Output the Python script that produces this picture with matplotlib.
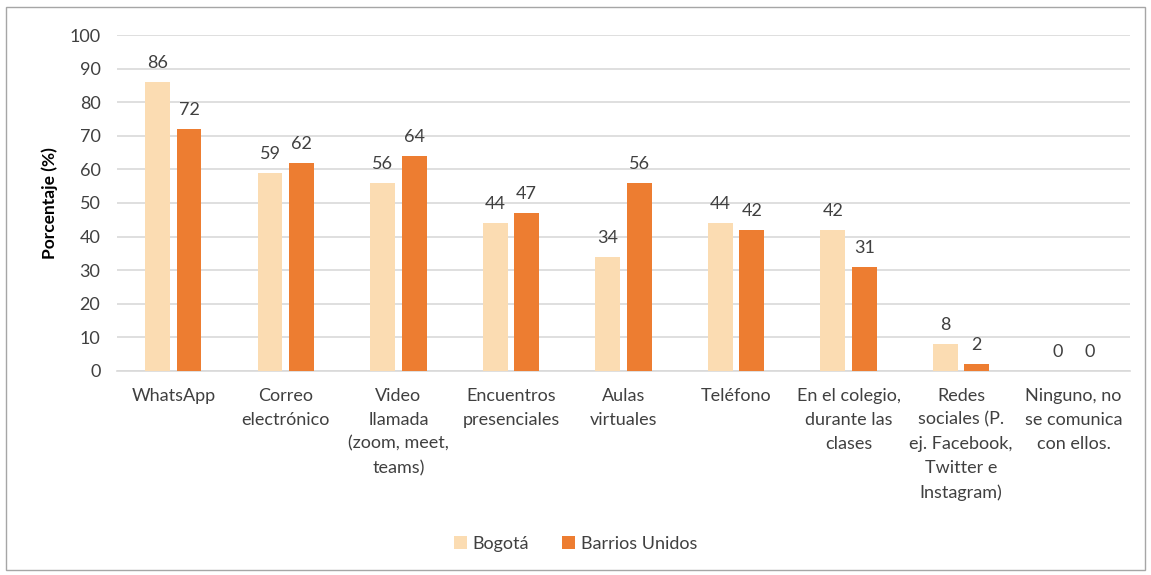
import numpy as np
import matplotlib.pyplot as plt
from matplotlib.patches import Rectangle

plt.rcParams['font.family'] = ['Lato', 'DejaVu Sans']

# Medios de comunicación con los docentes
categorias = [
    "WhatsApp",
    "Correo\nelectrónico",
    "Video\nllamada\n(zoom, meet,\nteams)",
    "Encuentros\npresenciales",
    "Aulas\nvirtuales",
    "Teléfono",
    "En el colegio,\ndurante las\nclases",
    "Redes\nsociales (P.\nej. Facebook,\nTwitter e\nInstagram)",
    "Ninguno, no\nse comunica\ncon ellos.",
]
bogota = [86, 59, 56, 44, 34, 44, 42, 8, 0]
barrios_unidos = [72, 62, 64, 47, 56, 42, 31, 2, 0]

color_bog = "#FBDCB2"
color_bu = "#ED7D31"
texto = "#404040"

fig = plt.figure(figsize=(11.51, 5.75), dpi=100)
ax = fig.add_axes([0.1017, 0.355, 0.88, 0.584])

x = np.arange(len(categorias))
ancho = 0.22
b1 = ax.bar(x - 0.14, bogota, ancho, color=color_bog, label="Bogotá", zorder=3)
b2 = ax.bar(x + 0.14, barrios_unidos, ancho, color=color_bu, label="Barrios Unidos", zorder=3)

for barras in (b1, b2):
    for b in barras:
        h = b.get_height()
        ax.annotate(f"{h:g}", (b.get_x() + b.get_width() / 2, h),
                    xytext=(0, 8), textcoords="offset points",
                    ha="center", va="bottom", fontsize=13, color=texto)

ax.set_ylim(0, 100)
ax.set_xlim(-0.5, len(categorias) - 0.5)
ax.set_yticks(range(0, 101, 10))
ax.yaxis.grid(True, color="#D9D9D9", linewidth=1.2, zorder=0)
ax.set_axisbelow(True)
for s in ("top", "right", "left"):
    ax.spines[s].set_visible(False)
ax.spines["bottom"].set_color("#D9D9D9")
ax.spines["bottom"].set_linewidth(1.2)
ax.tick_params(axis="both", length=0, labelsize=13, colors=texto)
ax.tick_params(axis="y", pad=12)
ax.tick_params(axis="x", pad=12)
ax.set_xticks(x)
ax.set_xticklabels(categorias, linespacing=1.62, va="top")
ax.set_ylabel("Porcentaje (%)", fontsize=12.5, fontweight="bold", color="black", labelpad=8)

fig.legend(handles=[b1, b2], loc="center", bbox_to_anchor=(0.5, 0.054), ncol=2,
           frameon=False, fontsize=13, handlelength=0.75, handleheight=0.75,
           handletextpad=0.3, columnspacing=1.8, labelcolor=texto)

# marco exterior del gráfico
fig.patches.append(Rectangle((0.005, 0.009), 0.99, 0.978, transform=fig.transFigure,
                             fill=False, edgecolor="#A6A6A6", linewidth=1))

fig.savefig("out.png", dpi=100)
